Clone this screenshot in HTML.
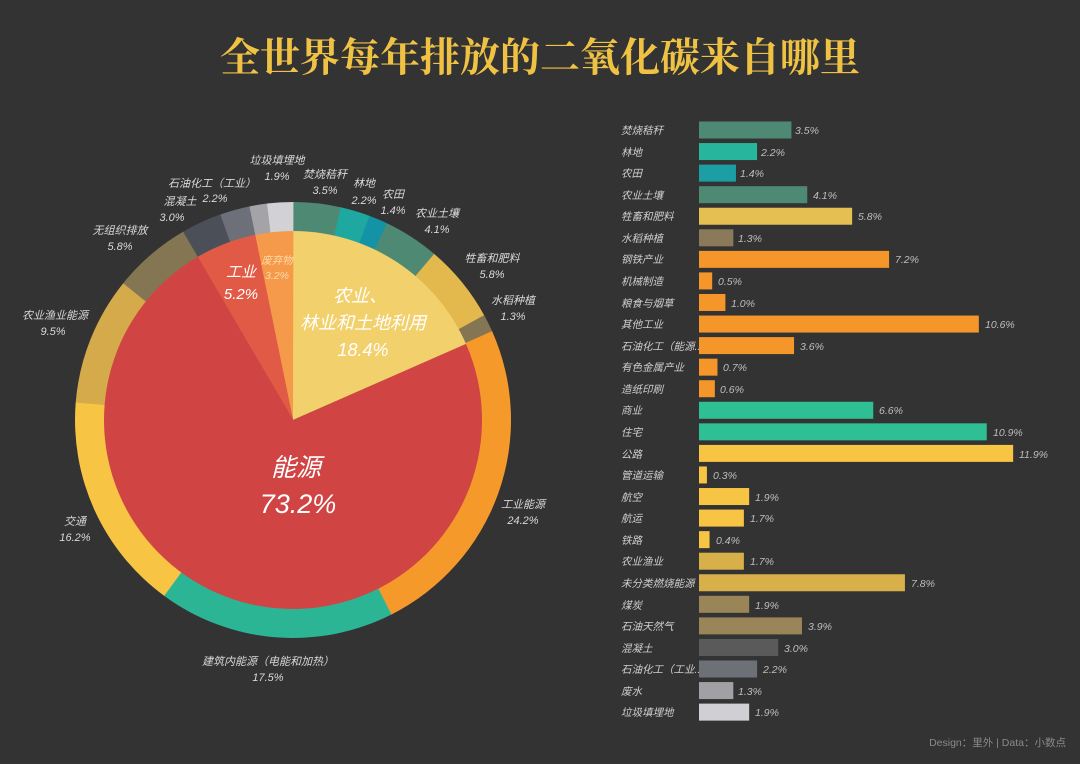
<!DOCTYPE html>
<html><head><meta charset="utf-8"><style>
html,body{margin:0;padding:0;background:#333333;}
svg{display:block}
.t{font-family:"Liberation Sans","Noto Sans CJK SC",sans-serif;font-style:italic;fill:#d8d8d8;font-size:11px;text-anchor:middle}
.b{font-family:"Liberation Sans","Noto Sans CJK SC",sans-serif;font-style:italic;fill:#cfcfcf;font-size:10.5px}
.v{font-family:"Liberation Sans","Noto Sans CJK SC",sans-serif;font-style:italic;fill:#bdbdbd;font-size:10.5px}
</style></head><body>
<svg id="s" width="1080" height="764" xmlns="http://www.w3.org/2000/svg">
<rect width="1080" height="764" fill="#333333"/>
<text x="540" y="71" text-anchor="middle" font-family="'Noto Serif CJK SC',serif" font-weight="bold" font-size="40" fill="#f0c244">全世界每年排放的二氧化碳来自哪里</text>
<g id="pie"></g>
<g class="t">
<text x="277" y="164">垃圾填埋地</text><text x="277" y="180">1.9%</text>
<text x="212" y="187">石油化工（工业）</text><text x="215" y="202">2.2%</text>
<text x="180" y="205">混凝土</text><text x="172" y="221">3.0%</text>
<text x="325" y="178">焚烧秸秆</text><text x="325" y="194">3.5%</text>
<text x="364" y="187">林地</text><text x="364" y="204">2.2%</text>
<text x="393" y="198">农田</text><text x="393" y="214">1.4%</text>
<text x="437" y="217">农业土壤</text><text x="437" y="233">4.1%</text>
<text x="492" y="262">牲畜和肥料</text><text x="492" y="278">5.8%</text>
<text x="513" y="304">水稻种植</text><text x="513" y="320">1.3%</text>
<text x="120" y="234">无组织排放</text><text x="120" y="250">5.8%</text>
<text x="55" y="319">农业渔业能源</text><text x="53" y="335">9.5%</text>
<text x="75" y="525">交通</text><text x="75" y="541">16.2%</text>
<text x="523" y="508">工业能源</text><text x="523" y="524">24.2%</text>
<text x="268" y="665">建筑内能源（电能和加热）</text><text x="268" y="681">17.5%</text>
</g>
<g font-family="'Liberation Sans','Noto Sans CJK SC',sans-serif" font-style="italic" fill="#fff" text-anchor="middle">
<text x="296" y="476" font-size="25">能源</text><text x="298" y="513" font-size="27">73.2%</text>
<text x="360" y="302" font-size="18">农业、</text><text x="363" y="329" font-size="18">林业和土地利用</text><text x="363" y="356" font-size="18">18.4%</text>
<text x="241" y="277" font-size="15">工业</text><text x="241" y="299" font-size="15">5.2%</text>
<text x="277" y="264" font-size="10.5" fill="#ffd9a8">废弃物</text><text x="277" y="279" font-size="10.5" fill="#ffd9a8">3.2%</text>
</g>
<g id="bars"></g>
<text x="1066" y="746" text-anchor="end" font-family="'Liberation Sans','Noto Sans CJK SC',sans-serif" font-size="10.5" fill="#8a8a8a">Design：里外 | Data：小数点</text>
<g id="barlabels">
<text class="b" x="621" y="134">焚烧秸秆</text>
<text class="b" x="621" y="156">林地</text>
<text class="b" x="621" y="177">农田</text>
<text class="b" x="621" y="199">农业土壤</text>
<text class="b" x="621" y="220">牲畜和肥料</text>
<text class="b" x="621" y="242">水稻种植</text>
<text class="b" x="621" y="263">钢铁产业</text>
<text class="b" x="621" y="285">机械制造</text>
<text class="b" x="621" y="307">粮食与烟草</text>
<text class="b" x="621" y="328">其他工业</text>
<text class="b" x="621" y="350" font-size="10">石油化工（能源..</text>
<text class="b" x="621" y="371">有色金属产业</text>
<text class="b" x="621" y="393">造纸印刷</text>
<text class="b" x="621" y="414">商业</text>
<text class="b" x="621" y="436">住宅</text>
<text class="b" x="621" y="458">公路</text>
<text class="b" x="621" y="479">管道运输</text>
<text class="b" x="621" y="501">航空</text>
<text class="b" x="621" y="522">航运</text>
<text class="b" x="621" y="544">铁路</text>
<text class="b" x="621" y="565">农业渔业</text>
<text class="b" x="621" y="587">未分类燃烧能源</text>
<text class="b" x="621" y="609">煤炭</text>
<text class="b" x="621" y="630">石油天然气</text>
<text class="b" x="621" y="652">混凝土</text>
<text class="b" x="621" y="673">石油化工（工业..</text>
<text class="b" x="621" y="695">废水</text>
<text class="b" x="621" y="716">垃圾填埋地</text>
</g>
<g id="vals">
<text class="v" x="795" y="134">3.5%</text>
<text class="v" x="761" y="156">2.2%</text>
<text class="v" x="740" y="177">1.4%</text>
<text class="v" x="813" y="199">4.1%</text>
<text class="v" x="858" y="220">5.8%</text>
<text class="v" x="738" y="242">1.3%</text>
<text class="v" x="895" y="263">7.2%</text>
<text class="v" x="718" y="285">0.5%</text>
<text class="v" x="731" y="307">1.0%</text>
<text class="v" x="985" y="328">10.6%</text>
<text class="v" x="800" y="350">3.6%</text>
<text class="v" x="723" y="371">0.7%</text>
<text class="v" x="720" y="393">0.6%</text>
<text class="v" x="879" y="414">6.6%</text>
<text class="v" x="993" y="436">10.9%</text>
<text class="v" x="1019" y="458">11.9%</text>
<text class="v" x="713" y="479">0.3%</text>
<text class="v" x="755" y="501">1.9%</text>
<text class="v" x="750" y="522">1.7%</text>
<text class="v" x="716" y="544">0.4%</text>
<text class="v" x="750" y="565">1.7%</text>
<text class="v" x="911" y="587">7.8%</text>
<text class="v" x="755" y="609">1.9%</text>
<text class="v" x="808" y="630">3.9%</text>
<text class="v" x="784" y="652">3.0%</text>
<text class="v" x="763" y="673">2.2%</text>
<text class="v" x="738" y="695">1.3%</text>
<text class="v" x="755" y="716">1.9%</text>
</g>
</svg>
<script>
var NS="http://www.w3.org/2000/svg",cx=293,cy=420;
function arc(r0,r1,a0,a1,c){var p=document.createElementNS(NS,"path");
function pt(r,a){return [cx+r*Math.sin(a),cy-r*Math.cos(a)];}
var l=(a1-a0)>Math.PI?1:0,A=pt(r1,a0),B=pt(r1,a1),C=pt(r0,a1),D=pt(r0,a0);
var d="M"+A+" A"+r1+","+r1+" 0 "+l+" 1 "+B;
if(r0>0)d+=" L"+C+" A"+r0+","+r0+" 0 "+l+" 0 "+D+" Z";else d+=" L"+cx+","+cy+" Z";
p.setAttribute("d",d);p.setAttribute("fill",c);document.getElementById("pie").appendChild(p);}
var ring=[[3.5,"#4e8a73"],[2.2,"#1fa8a0"],[1.4,"#1593a6"],[4.1,"#4e8a73"],[5.8,"#e3b84c"],[1.3,"#857653"],[24.2,"#f59a2a"],[17.5,"#2bb594"],[16.2,"#f7c443"],[9.5,"#d4aa4a"],[5.8,"#857653"],[3.0,"#4b4f57"],[2.2,"#6d7078"],[1.3,"#a3a3a8"],[1.9,"#d2d2d6"]];
var T=0;ring.forEach(function(s){T+=s[0]});var a=0;
ring.forEach(function(s){var b=a+s[0]/T*2*Math.PI;arc(188,218,a,b+0.002,s[1]);a=b;});
var inner=[[18.4,"#f2d06b"],[73.2,"#d04444"],[5.2,"#e05a45"],[3.2,"#f59a4a"]];T=100;a=0;
inner.forEach(function(s){var b=a+s[0]/T*2*Math.PI;arc(0,189,a,b+0.002,s[1]);a=b;});
var bars=[[3.5,"#4e8a73"],[2.2,"#27b59e"],[1.4,"#1c9ea5"],[4.1,"#4e8a73"],[5.8,"#e5bf52"],[1.3,"#8a7a5a"],[7.2,"#f5962a"],[0.5,"#f5962a"],[1.0,"#f5962a"],[10.6,"#f5962a"],[3.6,"#f5962a"],[0.7,"#f5962a"],[0.6,"#f5962a"],[6.6,"#2fbf94"],[10.9,"#2fbf94"],[11.9,"#f7c443"],[0.3,"#f7c443"],[1.9,"#f7c443"],[1.7,"#f7c443"],[0.4,"#f7c443"],[1.7,"#d8b04a"],[7.8,"#d8b04a"],[1.9,"#9a8558"],[3.9,"#9a8558"],[3.0,"#5a5a5a"],[2.2,"#6e7078"],[1.3,"#a0a0a5"],[1.9,"#d0d0d4"]];
bars.forEach(function(s,i){var r=document.createElementNS(NS,"rect");var y=130+i*21.56;
r.setAttribute("x",699);r.setAttribute("y",y-8.5);r.setAttribute("width",s[0]*26.4);r.setAttribute("height",17);r.setAttribute("fill",s[1]);
document.getElementById("bars").appendChild(r);});
</script>
</body></html>
